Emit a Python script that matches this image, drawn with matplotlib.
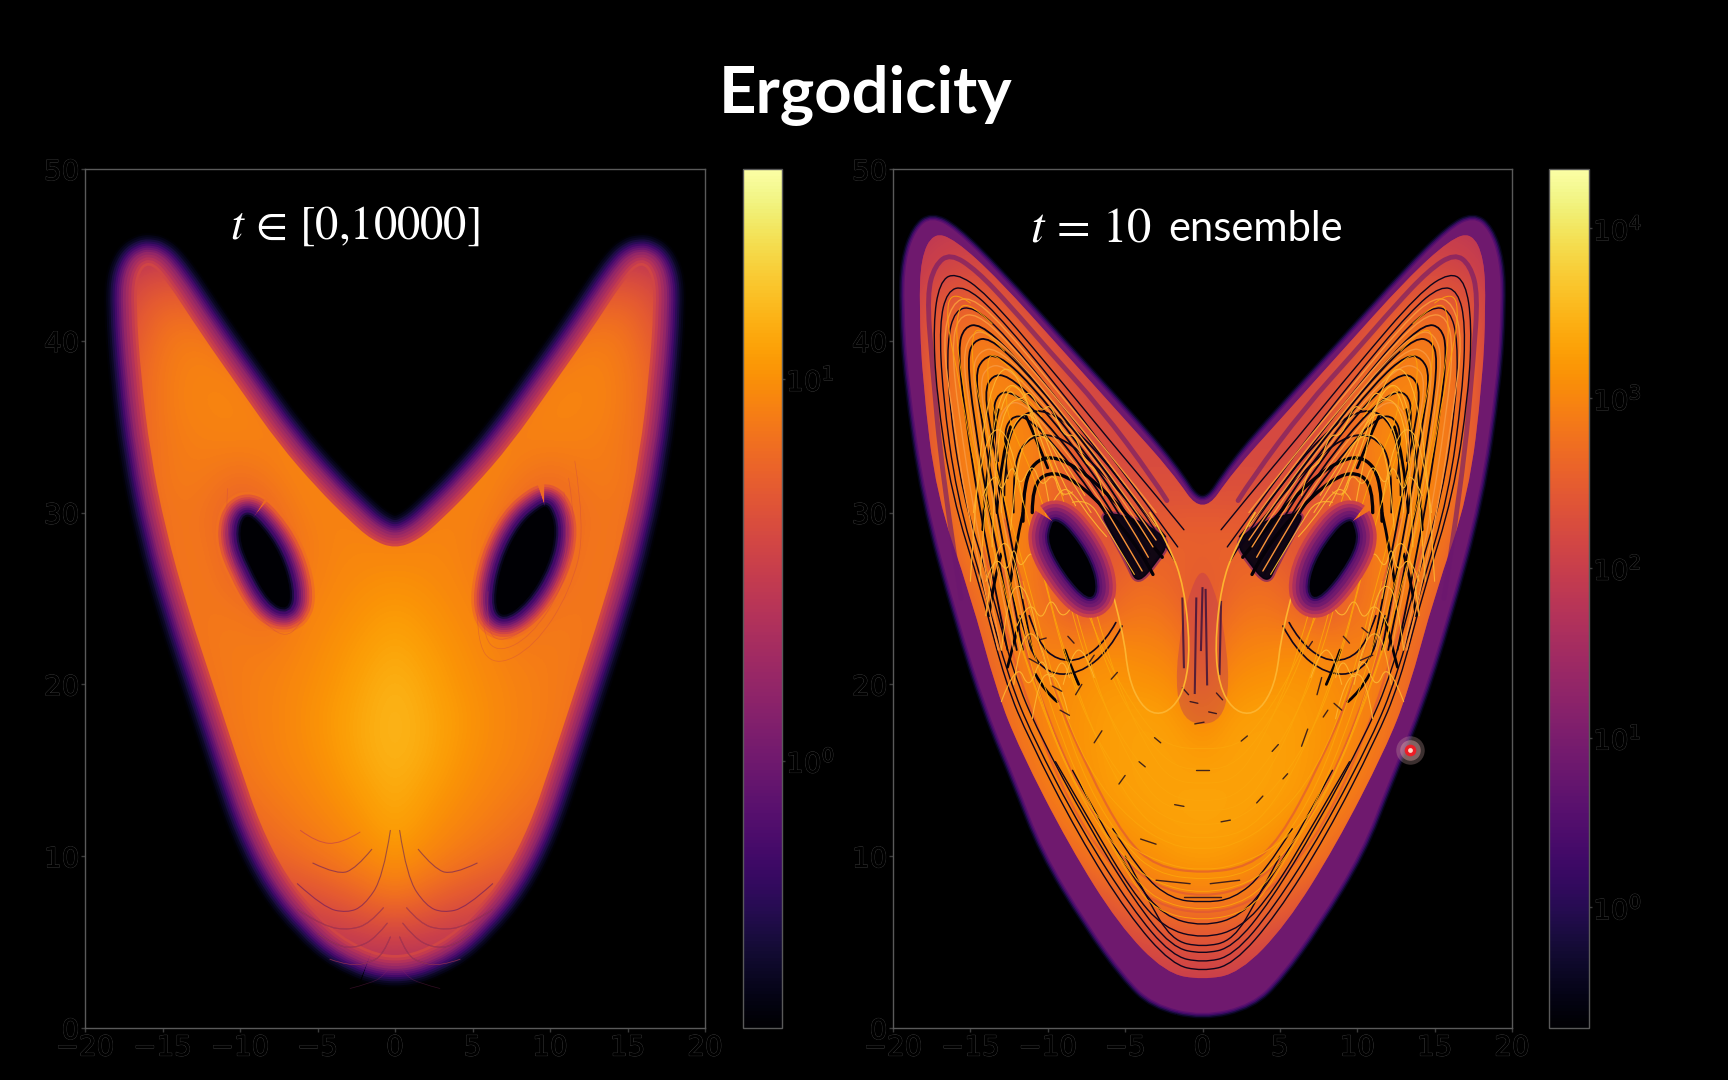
import matplotlib
matplotlib.use("Agg")
import matplotlib.pyplot as plt
import matplotlib.patheffects as pe
import numpy as np
from matplotlib.cm import ScalarMappable
from matplotlib.colors import LogNorm
from matplotlib.patches import PathPatch
from matplotlib.path import Path

# log10 density, x = 0, 2, ... 20 (the plot is close to mirror symmetric)
grid_x = [0, 2, 4, 6, 8, 10, 12, 14, 16, 18, 20]
grid_z = list(range(0, 52, 2))
left_log = [
    [-.2, -.2, -.3, -.4, -.5, -.5, -.6, -.7, -.7, -.7, -.7],
    [.10, .10, .05, 0.0, -.2, -.4, -.5, -.6, -.7, -.7, -.7],
    [.38, .38, .35, .30, .15, -.1, -.3, -.5, -.6, -.7, -.7],
    [.62, .58, .52, .48, .42, .30, .10, -.3, -.5, -.6, -.7],
    [.88, .80, .72, .66, .58, .50, .30, 0.0, -.3, -.5, -.7],
    [1.02, .95, .88, .82, .76, .66, .50, .30, 0.0, -.3, -.7],
    [1.10, 1.02, .95, .90, .84, .76, .66, .45, .15, -.2, -.6],
    [1.14, 1.07, 1.0, .94, .90, .84, .74, .60, .30, 0.0, -.5],
    [1.17, 1.12, 1.03, .97, .93, .88, .80, .66, .40, 0.0, -.5],
    [1.18, 1.12, 1.05, .98, .93, .90, .84, .72, .50, .10, -.4],
    [1.16, 1.10, 1.02, .97, .93, .90, .86, .78, .60, .25, -.3],
    [1.12, 1.06, 1.0, .95, .90, .90, .88, .82, .66, .35, -.2],
    [1.06, 1.02, .97, .93, .82, .88, .88, .85, .70, .40, -.2],
    [1.0, .98, .95, .90, .74, .78, .88, .86, .74, .45, -.1],
    [.94, .95, .94, .88, .72, .72, .86, .88, .78, .50, -.1],
    [.84, .92, .94, .92, .78, .72, .84, .88, .80, .55, 0.0],
    [.40, .75, .92, .95, .88, .82, .88, .90, .82, .60, 0.0],
    [.10, .50, .80, .94, .93, .92, .92, .90, .82, .60, 0.0],
    [-.2, .20, .50, .75, .90, .95, .94, .92, .82, .60, 0.0],
    [-.5, -.2, .10, .40, .70, .92, .94, .92, .82, .60, 0.0],
    [-.7, -.5, -.2, 0.0, .40, .72, .90, .90, .78, .55, 0.0],
    [-.7, -.7, -.5, -.2, 0.0, .40, .68, .80, .72, .50, -.1],
    [-.7, -.7, -.7, -.5, -.2, 0.0, .30, .55, .58, .40, -.3],
    [-.7, -.7, -.7, -.7, -.5, -.3, -.2, 0.0, .15, -.1, -.5],
    [-.7, -.7, -.7, -.7, -.7, -.7, -.6, -.5, -.4, -.5, -.7],
    [-.7, -.7, -.7, -.7, -.7, -.7, -.7, -.7, -.7, -.7, -.7],
]
right_log = [
    [1.5, 1.5, 1.5, 1.4, 1.3, 1.2, 1.2, 1.2, 1.2, 1.2, 1.2],
    [1.9, 1.9, 1.8, 1.8, 1.7, 1.6, 1.5, 1.4, 1.3, 1.2, 1.2],
    [2.15, 2.15, 2.1, 2.0, 1.9, 1.8, 1.7, 1.6, 1.5, 1.4, 1.2],
    [2.5, 2.45, 2.35, 2.2, 2.1, 2.0, 1.9, 1.7, 1.6, 1.4, 1.2],
    [2.95, 2.9, 2.75, 2.5, 2.25, 2.0, 1.9, 1.8, 1.6, 1.4, 1.2],
    [3.25, 3.2, 3.05, 2.9, 2.65, 2.3, 2.0, 1.9, 1.7, 1.5, 1.2],
    [3.32, 3.3, 3.25, 3.1, 2.9, 2.65, 2.3, 2.0, 1.8, 1.5, 1.2],
    [3.32, 3.3, 3.3, 3.25, 3.05, 2.85, 2.5, 2.1, 1.8, 1.5, 1.2],
    [3.2, 3.3, 3.3, 3.25, 3.15, 2.95, 2.7, 2.2, 1.8, 1.5, 1.2],
    [2.95, 3.25, 3.3, 3.25, 3.15, 3.0, 2.8, 2.3, 1.8, 1.5, 1.2],
    [2.6, 3.1, 3.15, 3.2, 3.1, 3.0, 2.85, 2.5, 1.9, 1.5, 1.2],
    [2.4, 2.95, 3.0, 3.05, 2.95, 2.95, 2.9, 2.6, 2.0, 1.6, 1.2],
    [2.35, 2.75, 2.85, 2.65, 2.4, 2.8, 2.95, 2.75, 2.2, 1.7, 1.2],
    [2.4, 2.6, 2.7, 2.5, 2.2, 2.6, 3.0, 2.85, 2.4, 1.8, 1.2],
    [2.55, 2.6, 2.5, 2.4, 2.3, 2.5, 3.0, 3.0, 2.6, 2.0, 1.3],
    [2.45, 2.4, 2.4, 2.5, 2.4, 2.6, 3.0, 3.05, 2.7, 2.1, 1.4],
    [2.2, 2.3, 2.25, 2.3, 2.4, 2.7, 3.0, 3.05, 2.8, 2.15, 1.5],
    [2.0, 2.2, 2.2, 2.2, 2.4, 2.8, 3.05, 3.05, 2.85, 2.2, 1.5],
    [2.0, 2.0, 2.2, 2.2, 2.2, 2.65, 3.0, 3.05, 2.8, 2.2, 1.5],
    [2.0, 2.0, 2.0, 2.1, 2.2, 2.4, 2.9, 3.0, 2.8, 2.3, 1.5],
    [2.0, 2.0, 2.0, 2.0, 2.1, 2.2, 2.6, 2.9, 2.75, 2.2, 1.5],
    [2.0, 2.0, 2.0, 2.0, 2.0, 2.1, 2.2, 2.5, 2.5, 2.2, 1.5],
    [1.9, 1.9, 2.0, 2.0, 2.0, 2.05, 2.1, 2.2, 2.15, 2.0, 1.5],
    [1.9, 1.9, 1.9, 1.9, 1.9, 1.9, 2.0, 2.0, 2.0, 1.9, 1.5],
    [1.5, 1.5, 1.5, 1.5, 1.5, 1.5, 1.5, 1.5, 1.5, 1.5, 1.5],
    [1.5, 1.5, 1.5, 1.5, 1.5, 1.5, 1.5, 1.5, 1.5, 1.5, 1.5],
]

# outlines, right half only
left_body_x = [0, 3, 5, 7, 8.7, 10, 11.6, 13.4, 14.8, 15.8, 16.4, 16.7, 16.6, 15.9, 14.8, 12.5, 10, 7.5, 5, 3, 1.5, 0]
left_body_z = [4.0, 5.0, 6.6, 8.8, 11.8, 15.2, 19.6, 24.5, 29, 33.5, 38, 42, 43.8, 44.6, 43.6, 40.4, 37.2, 34, 31.4, 29.6, 28.4, 27.9]
left_hole_r_x = [9.9, 10.4, 9.9, 8.5, 6.9, 6.4, 6.9, 8.1, 9.4]
left_hole_r_z = [30.4, 29, 26.9, 24.8, 23.8, 24.8, 27.2, 29.3, 30.3]
left_hole_l_x = [-9.7, -10.1, -9.4, -8.1, -6.9, -6.7, -7.4, -8.7]
left_hole_l_z = [30, 28.6, 26.9, 24.8, 24.3, 25.5, 27.6, 29.3]

# scallops near the bottom of the left panel
scallop_a = ([.3, .75, 2, 3.1, 4.6, 6.3], [11.5, 8.8, 7.1, 6.7, 7, 8.4])
scallop_b = ([1.5, 2.5, 3.7, 5.3], [10.4, 9.3, 8.9, 9.6])
scallop_c = ([-6.1, -5.05, -3.5, -2.26], [11.5, 10.8, 10.7, 11.4])
scallop_d = ([.3, .75, 1.6, 2.9, 4.2], [5.3, 4.3, 3.8, 3.6, 4])
scallop_e = ([.5, 1.2, 2.3, 3.7, 5], [6.1, 5.3, 4.7, 4.7, 5.5])
scallop_f = ([.3, .75, 1.6, 2.9], [3.6, 3, 2.6, 2.3])
scallop_g = ([.75, 1.6, 2.9, 4.6, 6.3], [7, 6.1, 5.7, 5.9, 6.9])
scallops = [scallop_a, scallop_b, scallop_d, scallop_e, scallop_g]
faint_scallops = [scallop_f]
ring_a = ([11.2, 11.8, 10.8, 8.8, 6.6, 5.6, 5.6], [32, 28.8, 25.6, 22.8, 21.8, 23, 25.4])
ring_b = ([10.9, 11.3, 10.4, 8.6, 6.6, 5.9, 6], [31.2, 28.6, 25.6, 23.2, 22.4, 23.4, 25.4])
ring_c = ([11.6, 12.3, 11.3, 9, 6.4, 5.2, 5.3], [33, 29, 25.4, 22.2, 21, 22.6, 25.6])
ring_d = ([-10.8, -11, -10, -8.4, -6.6, -5.9], [31.4, 28.6, 25.8, 23.4, 22.6, 24])
rings = [ring_a, ring_b, ring_c, ring_d]

right_outer_x = [0, 3.2, 5, 7.4, 10.3, 12, 13.9, 15.8, 17.9, 19, 19.3, 19.2, 18.5, 17.5, 16, 13.2, 9, 5, 2, 0]
right_outer_z = [.7, 1.4, 3, 6, 10.3, 14.3, 18.4, 23.8, 30.8, 37.7, 42, 44.7, 46.5, 47.2, 46.5, 44, 39.8, 35.9, 32.8, 30]
right_body_x = [0, 2.4, 5.4, 8.6, 11.8, 13.3, 15, 17.2, 18.1, 18.3, 18.2, 17.4, 16, 13.2, 9, 5, 2, 0]
right_body_z = [2.8, 3.2, 6, 10.6, 16.2, 19.6, 25.2, 31, 37.7, 42, 44.8, 46.3, 45.9, 43.6, 39.4, 35.4, 32.4, 29.8]
wedge_x = [2.2, 2.9, 4.2, 4.8, 6, 6.6, 4.8, 3]
wedge_z = [28.2, 27.2, 25.8, 27, 29, 30, 29.8, 29]
hole_x = [9.8, 10, 8.9, 7.4, 6.8, 7.2, 8.6, 9.5]
hole_z = [29.3, 28.2, 26.4, 24.9, 25.4, 27.1, 29, 29.6]
tear_x = [0, 1, 1.6, 1.7, 1.2, 0]
tear_z = [27, 25, 22, 19.5, 18, 17.6]
ribbon_x = [15.6, 16.8, 17.5, 17.8, 17.3, 16.3, 14.6, 12.4, 9.9, 6.6, 3.2, 2.3]
ribbon_z = [25, 32, 38.9, 42.7, 44.4, 45.1, 44.1, 42, 39.4, 36.1, 32, 30.7]

# dark strands, bottom centre -> side -> wing top -> arm
strand_1 = ([0, 2, 4.8, 8, 11.2, 12.7, 14.3, 16.2, 17.2, 17.4, 17, 16, 14, 10, 6, 3, 1.2],
            [3.3, 3.7, 6.6, 11.2, 16.8, 20, 25.5, 31, 37, 41, 43.4, 44, 42.8, 38.6, 34.2, 31, 29])
strand_2 = ([0, 2, 4.6, 7.8, 11, 12.5, 14.1, 15.9, 16.8, 17, 16.5, 15.4, 13.5, 9.6, 6, 3.2, 1.6],
            [3.8, 4.2, 7, 11.5, 17, 20.3, 25.5, 31, 37, 41, 42.9, 43.2, 41.8, 37.6, 33.4, 30, 28])
strand_3 = ([0, 2, 4.4, 7.4, 10.6, 12.2, 13.8, 15.5, 16.4, 16.5, 16, 14.8, 12.8, 9, 5.6, 3, 1.8],
            [4.3, 4.7, 7.4, 11.8, 17.2, 20.6, 26, 31, 36.5, 40, 41.8, 42, 40.4, 36.2, 32.2, 29, 27.2])
bowl_4 = ([0, 2.5, 4.6, 7, 9.5], [5.2, 5.8, 8, 11.6, 15.5])
bowl_5 = ([0, 2.5, 4.4, 6.6, 8.4], [5.9, 6.5, 8.6, 12, 15])
bowl_6 = ([0, 2, 4, 5.8], [7.3, 7.5, 9, 11.6])
bowl_7 = ([0, 2, 3.6, 5], [4.7, 5.1, 7.6, 10])
bottom_strands = [strand_1, strand_2, strand_3, bowl_4, bowl_5, bowl_6, bowl_7]

wing_1 = ([12.6, 14.2, 15.4, 15.8, 15.4, 14.4, 12.4, 9, 5.6, 3], [22, 29, 36, 39.6, 40.8, 41, 39.4, 35.6, 31.6, 28.4])
wing_2 = ([12, 13.6, 14.8, 15.2, 14.8, 13.8, 11.8, 8.4, 5, 3], [22, 29, 35.6, 39, 40, 40.2, 38.6, 35, 31, 28.2])
wing_3 = ([11.6, 13, 14.2, 14.7, 14.2, 13.2, 11.2, 8, 5, 3.4], [22, 28.6, 35, 38, 39, 39.2, 37.6, 34, 30.2, 27.6])
wing_4 = ([11, 12.4, 13.6, 14.1, 13.6, 12.6, 10.6, 7.6, 5, 3.6], [22, 28.4, 34.4, 37, 38, 38, 36.4, 33, 29.4, 27.2])
wing_5 = ([13.2, 13.6, 13.2, 12.2, 10.2, 7.4, 5, 3.8], [33, 35.8, 37, 37, 35.4, 32.2, 28.8, 26.8])
wing_6 = ([12.6, 12.9, 12.4, 11.4, 9.6, 7, 4.8, 4], [32, 34.4, 35.6, 35.6, 34, 31, 27.8, 26.4])
wing_7 = ([12.8, 12.8, 11.5, 9.5, 7, 4.6, 2.4], [31, 34, 36, 35.8, 33.8, 31, 28.6])
wing_8 = ([12.2, 12.3, 11, 9, 6.5, 4.2, 2.4], [30, 33, 34.6, 34.4, 32.4, 30, 28])
dark_wings = [wing_1, wing_2, wing_3, wing_4, wing_5, wing_6, wing_7, wing_8]

# light lines between the dark ones in the wing
glow_1 = ([13.2, 15, 16.2, 16.8, 16.2, 15, 13, 9.4, 5.8, 3], [22, 29, 36, 40, 42.2, 42.6, 41, 37.1, 33.2, 30])
glow_2 = ([13, 14.6, 15.8, 16.2, 15.8, 14.6, 12.6, 9, 5.4, 3], [22, 29, 36, 39.6, 41.4, 41.6, 40, 36.2, 32.2, 29.2])
glow_3 = ([12.2, 13.8, 15, 15.5, 15, 14, 12, 8.6, 5.2, 3], [22, 29, 35.8, 39, 40.4, 40.6, 39, 35.3, 31.3, 28.4])
glow_4 = ([11.8, 13.2, 14.4, 14.9, 14.4, 13.4, 11.4, 8.2, 5, 3.2], [22, 28.8, 35.2, 38.4, 39.4, 39.6, 38, 34.5, 30.6, 28])
glow_5 = ([11.2, 12.7, 13.9, 14.4, 13.9, 12.9, 10.9, 7.8, 5, 3.5], [22, 28.5, 34.7, 37.6, 38.5, 38.6, 37, 33.5, 29.8, 27.4])
glow_6 = ([13.4, 13.3, 12.6, 11.6, 9.8, 7.2, 5, 3.9], [33, 35.2, 36.4, 36.4, 34.7, 31.6, 28.3, 26.6])
bright_wings = [glow_1, glow_2, glow_3, glow_4, glow_5, glow_6]

crescent_1 = ([11.6, 11.6, 10.3, 8.3, 6, 4.2, 2.6], [29.5, 32, 33.4, 32.8, 31, 29.2, 27.4])
crescent_2 = ([11, 11, 10, 8.4, 6, 4, 3.2], [30, 31.5, 32.4, 32, 30, 27.8, 26.4])
crescents = [crescent_1, crescent_2]
lower_arc_1 = ([11.8, 11.2, 10, 8, 6, 5.2], [24, 22, 20.6, 20.6, 22, 23.4])
lower_arc_2 = ([11.2, 10.6, 9.4, 7.8, 6.2, 5.6], [24, 22.4, 21.4, 21.4, 22.6, 23.6])
lower_arcs = [lower_arc_1, lower_arc_2]

# reddish lines down the lower sides
side_1 = ([0, 3, 5.8, 8.6, 11.2, 13, 14.2], [6.6, 7.2, 9.2, 13, 18.6, 24, 28])
side_2 = ([0, 3, 5.4, 8, 10.6, 12.4, 13.6], [7.6, 8.2, 10, 13.8, 19.4, 25, 29])
side_3 = ([0, 3, 5, 7.4, 9.8, 11.6, 12.8], [9, 9.4, 11, 15, 20, 25.6, 29.6])
side_lines = [side_1, side_2, side_3]

# bright strands
fan_1 = ([0, 2, 5, 8, 10.5, 12.4, 14.4, 15.6, 16, 15.4, 13.6], [9.2, 9.4, 10.6, 13.5, 19, 26, 32, 38, 41, 42.6, 41])
fan_2 = ([0, 2, 4.6, 7.4, 9.6, 11.4, 13.2, 14.6, 15, 14.4, 12.8], [10.4, 10.6, 12, 15, 20, 26.5, 32, 37, 40, 41, 39.4])
fan_3 = ([0, 2, 4.2, 6.8, 8.8, 10.4, 12, 13.6, 14, 13.4, 11.6], [11.8, 12, 13.4, 16.6, 21, 26.8, 32, 36, 38.8, 39.4, 37.6])
fan_4 = ([0, 2, 3.8, 6, 7.8, 9.2, 10.8, 12.4, 12.8, 12, 10.4], [13.2, 13.4, 15, 18, 22, 27, 32, 35, 37, 37.6, 35.6])
fan_5 = ([0, 1.8, 3.4, 5.4, 7, 8, 9, 10], [15, 15.2, 16.6, 19.4, 23, 27, 31, 33.4])
fan_6 = ([0, 3, 5, 8, 11, 13, 14.6, 15.8, 16.6, 16.2, 15], [7.8, 8.4, 9.8, 13.4, 20, 26, 32, 38, 41.4, 43, 42.2])
fan_7 = ([0, 3, 5, 7.4, 9.4, 10.8, 11.6], [8.6, 9, 10.6, 14, 19, 23, 26])
fan_8 = ([0, 2.6, 4.6, 6.8, 8.6, 9.8, 10.4], [11, 11.3, 13, 16.6, 21, 24.6, 27])
fan_9 = ([0, 2.4, 4, 6, 7.4, 8.4], [12.6, 12.8, 14.4, 18, 21.6, 25])
fan_10 = ([0, 2, 3.4, 5, 6.2, 7], [14.2, 14.4, 16, 19, 22, 24.6])
fan_11 = ([0, 3, 4.8, 7.6, 10.4, 12.2], [6.8, 7.4, 9.2, 13, 18.6, 23.6])
fan_12 = ([0, 3, 4.6, 7, 9.8, 11.6], [6.2, 6.8, 8.6, 12.4, 18.4, 24])
fan_13 = ([0, 2.2, 3.6, 5.6, 7.4, 9], [16.2, 16.4, 17.6, 20.4, 24, 28])
bright_strands = [fan_1, fan_2, fan_3, fan_4, fan_5, fan_6, fan_7, fan_8, fan_9, fan_10, fan_11, fan_12, fan_13]

arch_1 = ([15, 14.6, 13.8, 12.7, 11.4, 10.4, 9.8], [26, 32, 37, 38.8, 37, 33, 30])
arch_2 = ([14.4, 14, 13.4, 12.4, 11.2, 10, 9], [26, 31, 36, 37.8, 36.4, 33, 31])
arch_3 = ([13.6, 13.4, 12.8, 11.6, 10.4, 9.2, 8.2], [28, 33, 36.2, 36.8, 35, 32, 30.4])
arch_4 = ([13, 12.8, 12, 11, 9.8, 8.6, 7.2], [30, 33.6, 35.6, 35.8, 34, 32, 30])
arch_5 = ([12.4, 12, 11.2, 10, 8.8, 7.6], [29, 33, 34.6, 34.4, 32.8, 31])
arch_6 = ([14.8, 14.2, 13.2, 12.2, 11.6], [30, 33.8, 35.2, 33.6, 30.6])
arch_7 = ([14, 13.6, 12.8, 12, 11.6], [24, 27, 28.6, 27, 25])
arch_8 = ([13, 12.6, 11.8, 11, 10.6], [22, 25, 26, 24.6, 22.6])
arch_9 = ([12.2, 11.8, 11, 10.2, 9.8], [20, 22.4, 23.2, 21.8, 20])
arch_10 = ([11, 10.6, 9.8, 9, 8.6], [18, 20.2, 20.8, 19.6, 18])
arch_11 = ([10, 9.2, 8.2, 7.2, 6.2], [30, 31.6, 31, 29.6, 28.6])
arch_12 = ([8.4, 7.4, 6.4, 5.2, 4.4], [30.6, 30.8, 29.4, 27.6, 26.4])
arch_13 = ([9, 8.4, 7.6, 7], [20, 22, 22, 20.4])
arch_14 = ([13, 12.6, 11.8, 11.2, 10.4, 9.8, 9, 8.2, 7.6, 6.8, 6.4], [36, 37.4, 36.4, 37.2, 35.8, 36.4, 34.4, 34.6, 32.8, 32.6, 31])
arch_15 = ([14.2, 13.4, 13, 12.3, 11.8, 11, 10.4, 9.6, 9.2, 8.4], [31, 32.6, 31, 33, 31.4, 33, 31.4, 32.4, 30.8, 31.2])
arch_16 = ([14, 13.4, 12.6, 12.2, 11.8, 11, 10.6], [26, 27.6, 26.4, 28.2, 26.6, 28, 27])
arch_17 = ([13, 12, 11.2, 10.4, 9.8, 9, 8.6], [19, 21.4, 19.6, 21.8, 20, 21.8, 20.4])
arch_18 = ([12, 11.2, 10.4, 9.8, 9, 8.4], [23.4, 25, 23.6, 25.2, 23.6, 24.6])
arches = [arch_1, arch_2, arch_3, arch_4, arch_5, arch_6, arch_7, arch_8, arch_9, arch_10, arch_11, arch_12,
          arch_13, arch_14, arch_15, arch_16, arch_17, arch_18]

# black patches between the arches
patch_1 = ([14.2, 13.9, 13.2], [29, 33.4, 36])
patch_2 = ([13.3, 13, 12.4], [30, 33.4, 35])
patch_3 = ([11.4, 10.8, 10], [35.6, 34.4, 32.6])
patch_4 = ([13.8, 13.5, 13], [24, 26, 27.6])
patch_5 = ([12.4, 12.1, 11.6], [26, 28, 30])
patch_7 = ([12.6, 12.2, 11.8], [21, 22.4, 23.8])
patch_8 = ([10.8, 10.2, 9.4], [20.6, 19.6, 19])
patch_9 = ([8.9, 8.5, 8], [22, 21, 20])
patches_dark = [patch_1, patch_2, patch_3, patch_4, patch_5, patch_7, patch_8, patch_9]

loop_x = [6, 5.1, 4.8, 4, 3, 1.9, 1.1, .8, 1.2, 2.1, 3.4]
loop_z = [26, 23, 20.4, 18.8, 18.2, 18.6, 19.9, 22.2, 25.7, 28, 30]

dash_x = [(-1.2, 1.2), (-3, -.8), (.5, 2.4), (-4, -3), (6.4, 6.8), (7.4, 7.7), (-7, -6.5), (-8.2, -7.8), (-11.2, -10.6),
          (10.2, 11), (-9.2, -8.6), (8.5, 9), (-.4, .4), (-1.8, -1.2), (1.2, 1.8), (-5.4, -5), (3.5, 3.9), (-.8, -.3), (.4, .9),
          (-.5, .1), (-1.3, -.9), (.9, 1.3), (-3.1, -2.7), (2.5, 2.9), (-8.7, -8.3), (-10.5, -10.1), (9.1, 9.5), (10.3, 10.7),
          (6.8, 7.1), (-5.9, -5.5), (-4.1, -3.7), (4.5, 4.9), (-9.7, -9.1), (-7.3, -7), (7.8, 8.1), (5.2, 5.5)]
dash_z = [(7.6, 7.6), (8.6, 8.4), (8.4, 8.6), (11, 10.7), (16.4, 17.4), (19.4, 20.4), (16.6, 17.3), (19.4, 20), (21.5, 21.2),
          (21.4, 21.7), (18.5, 18.2), (18.9, 18.5), (15, 15), (13, 12.9), (12, 12.1), (14.2, 14.7), (13.1, 13.5), (19, 18.9), (18.4, 18.3),
          (17.7, 17.8), (19.8, 19.4), (19.5, 19.1), (16.9, 16.6), (16.7, 17), (22.8, 22.4), (22.6, 22.7), (22.8, 22.4), (23.3, 23),
          (22.1, 22.5), (20.3, 20.7), (15.5, 15.2), (16.1, 16.5), (19.9, 19.6), (21.3, 21.7), (18.1, 18.5), (14.5, 14.8)]
streak_x = [(-1.2, -1.3), (-.5, -.4), (.3, .2), (1.1, 1.2), (-.1, 0)]
streak_z = [(21, 25), (19.5, 25), (20, 25.5), (20.6, 24.8), (22, 25.6)]

dot_x = [13.4]
dot_z = [16.2]

title_text = "Ergodicity"
x_ticks = [-20, -15, -10, -5, 0, 5, 10, 15, 20]
z_ticks = [0, 10, 20, 30, 40, 50]
left_bar_ticks = [1, 10]
right_bar_ticks = [1, 10, 100, 1000, 10000]
left_range = (10 ** -0.7, 10 ** 1.55)
right_range = (10 ** -0.71, 10 ** 4.35)

W, H = 1728, 1080
DIM = "#3c3c3c"
hollow = [pe.withStroke(linewidth=0.8, foreground=DIM), pe.Normal()]
cmap = plt.get_cmap("inferno")


def add_axes(x0, x1, y0, y1):
    return fig.add_axes([x0 / W, 1 - y1 / H, (x1 - x0) / W, (y1 - y0) / H], facecolor="black")


def mirror_closed(x, z):
    return list(x) + [-v for v in reversed(x[1:-1])], list(z) + list(reversed(z[1:-1]))


def mirror_open(x, z):
    return [-v for v in reversed(x[1:])] + list(x), list(reversed(z[1:])) + list(z)


def closed_path(x, z):
    pts = np.column_stack([x, z])
    mids = (pts + np.roll(pts, -1, axis=0)) / 2
    verts, codes = [mids[-1]], [Path.MOVETO]
    for p, m in zip(pts, mids):
        verts += [p, m]
        codes += [Path.CURVE3, Path.CURVE3]
    return Path(verts, codes)


def open_path(x, z):
    pts = np.column_stack([x, z])
    verts, codes = [pts[0]], [Path.MOVETO]
    for i in range(1, len(pts) - 1):
        end = pts[i + 1] if i == len(pts) - 2 else (pts[i] + pts[i + 1]) / 2
        verts += [pts[i], end]
        codes += [Path.CURVE3, Path.CURVE3]
    return Path(verts, codes)


def fill(ax, path, frac, lw=0, alpha=None, zorder=2):
    col = cmap(frac)
    patch = PathPatch(path, fc=col, ec=col, lw=lw, alpha=alpha, zorder=zorder, joinstyle="round")
    ax.add_patch(patch)
    return patch


def stroke(ax, path, color, lw, alpha=None, zorder=5):
    ax.add_patch(PathPatch(path, fc="none", ec=color, lw=lw, alpha=alpha, zorder=zorder, capstyle="round"))


def both_sides(ax, curves, color, lw, alpha=None, zorder=5):
    for sx, sz in curves:
        for sign in (1, -1):
            stroke(ax, open_path([sign * v for v in sx], sz), color, lw, alpha, zorder)


def bowls(ax, curves, color, lw, alpha=None, zorder=5):
    for sx, sz in curves:
        fx, fz = mirror_open(sx, sz)
        stroke(ax, open_path(fx, fz), color, lw, alpha, zorder)


def density_image(ax, rows, norm, clip):
    half = np.array(rows, dtype=float)
    full = np.hstack([half[:, :0:-1], half])
    im = ax.imshow(10 ** full, origin="lower", aspect="auto", extent=[-21, 21, -1, 51], cmap=cmap, norm=norm,
                   interpolation="bicubic", zorder=3)
    im.set_clip_path(clip)
    return im


def style_axes(ax):
    ax.set_xlim(-20, 20)
    ax.set_ylim(0, 50)
    ax.set_xticks(x_ticks)
    ax.set_yticks(z_ticks)
    ax.tick_params(colors=DIM, length=3, width=1, pad=1, labelsize=20)
    for side in ax.spines.values():
        side.set_color("#5a5a5a")
        side.set_linewidth(1)
    for lab in ax.get_xticklabels() + ax.get_yticklabels():
        lab.set_color("black")
        lab.set_path_effects(hollow)


def add_bar(x0, x1, norm, ticks):
    cax = add_axes(x0, x1, 169, 1028)
    cb = fig.colorbar(ScalarMappable(norm=norm, cmap=cmap), cax=cax)
    cb.set_ticks(ticks)
    cb.minorticks_off()
    cb.outline.set_edgecolor("#5a5a5a")
    cb.outline.set_linewidth(1)
    cax.tick_params(colors=DIM, length=2, width=1, pad=1, labelsize=20, which="major")
    for lab in cax.get_yticklabels():
        lab.set_color("black")
        lab.set_path_effects(hollow)


fig = plt.figure(figsize=(W / 100, H / 100), dpi=100, facecolor="black")
fig.text(866 / W, 1 - 96 / H, title_text, color="white", family="Lato", weight="bold", fontsize=47, ha="center", va="center")

# left panel: long time average
ax = add_axes(85, 705, 169, 1028)
left_norm = LogNorm(*left_range)
body = closed_path(*mirror_closed(left_body_x, left_body_z))
fade = [.01, .04, .07, .11, .15, .2, .25, .3, .35, .4, .44, .48, .52, .56]
widths = [47, 44, 41, 38, 35, 32, 29, 26, 23, 20, 16, 12, 8, 4]
for f, w in zip(fade, widths):
    fill(ax, body, f, lw=w)
density_image(ax, left_log, left_norm, fill(ax, body, .56))
for hx, hz in [(left_hole_r_x, left_hole_r_z), (left_hole_l_x, left_hole_l_z)]:
    hole = closed_path(hx, hz)
    hf = [.68, .62, .56, .5, .44, .38, .32, .26, .2, .12, .05]
    hw = [36, 32, 28, 25, 22, 19, 16, 13, 10, 6, 3]
    for f, w in zip(hf, hw):
        fill(ax, hole, f, lw=w, zorder=4)
    fill(ax, hole, 0, zorder=4)
for rx, rz in rings:
    stroke(ax, open_path(rx, rz), cmap(.55), .5, alpha=.4)
both_sides(ax, scallops, cmap(.22), .8, alpha=.5)
both_sides(ax, scallops[2:], cmap(.62), .5, alpha=.45)
both_sides(ax, faint_scallops, cmap(.4), .5, alpha=.35)
stroke(ax, open_path(*scallop_c), cmap(.5), .7, alpha=.6)
style_axes(ax)
ax.text(0.435, 0.933, r"$t\,\in\,[0{,}10000]$", transform=ax.transAxes, color="white", fontsize=33.5, ha="center", va="center",
        math_fontfamily="stix")
add_bar(743, 782, left_norm, left_bar_ticks)

# right panel: ensemble at t = 10
ax = add_axes(893, 1512, 169, 1028)
right_norm = LogNorm(*right_range)
outer = closed_path(*mirror_closed(right_outer_x, right_outer_z))
for f, w in zip([.05, .12, .2, .26], [8, 6, 4, 2]):
    fill(ax, outer, f, lw=w)
fill(ax, outer, .31)
body = closed_path(*mirror_closed(right_body_x, right_body_z))
density_image(ax, right_log, right_norm, fill(ax, body, .46))
for sign in (1, -1):
    wedge = closed_path([sign * v for v in wedge_x], wedge_z)
    fill(ax, wedge, .3, lw=4, alpha=.6, zorder=4)
    fill(ax, wedge, .02, lw=1, alpha=.9, zorder=4)
both_sides(ax, [(ribbon_x, ribbon_z)], cmap(.3), 3.5, alpha=.6, zorder=4)
tear = closed_path(*mirror_closed(tear_x, tear_z))
fill(ax, tear, .5, alpha=.4, zorder=4)
bowls(ax, side_lines, cmap(.6), 1.6, alpha=.6, zorder=4)
bowls(ax, bottom_strands, "#10051c", 1.0)
both_sides(ax, dark_wings, "#0c0414", 1.3)
both_sides(ax, crescents, "#050108", 2.4)
both_sides(ax, lower_arcs, "#10051c", 1.2)
both_sides(ax, patches_dark, "#050108", 2.0)
both_sides(ax, bright_wings, "#f8943a", 1.0, zorder=6)
bowls(ax, bright_strands, "#fca50a", .7, alpha=.9, zorder=6)
both_sides(ax, arches, "#fdb42f", .8, alpha=.95, zorder=6)
for dx, dz in zip(dash_x, dash_z):
    ax.plot(dx, dz, color="#14061f", lw=1.0, alpha=.8, zorder=6.5, solid_capstyle="round")
for dx, dz in zip(streak_x, streak_z):
    ax.plot(dx, dz, color="#2a0a3a", lw=1.5, alpha=.75, zorder=6.5)
both_sides(ax, [(loop_x, loop_z)], "#fdb42f", 1.2, zorder=7)
# the eye and its ring sit on top of the strands
for sign in (1, -1):
    hole = closed_path([sign * v for v in hole_x], hole_z)
    for f, w in zip([.54, .46, .38, .32, .28, .2, .1], [30, 25, 20, 15, 10, 6, 3]):
        fill(ax, hole, f, lw=w, zorder=7.5)
    fill(ax, hole, 0, zorder=7.5)
# red marker with its haze
ax.scatter(dot_x, dot_z, s=420, color="#c8a0a0", alpha=.3, linewidths=0, zorder=8)
ax.scatter(dot_x, dot_z, s=220, color="#d8a0a0", alpha=.45, linewidths=0, zorder=8)
ax.scatter(dot_x, dot_z, s=70, color="#ee1c25", linewidths=0, zorder=9)
ax.scatter(dot_x, dot_z, s=12, color="#ffd8c8", linewidths=0, zorder=10)
style_axes(ax)
ax.text(0.32, 0.932, r"$t\,=\,10$", transform=ax.transAxes, color="white", fontsize=35, ha="center", va="center",
        math_fontfamily="stix", zorder=11)
ax.text(0.585, 0.93, "ensemble", transform=ax.transAxes, color="white", fontsize=30, family="Lato", ha="center", va="center", zorder=11)
add_bar(1549, 1589, right_norm, right_bar_ticks)

fig.savefig("out.png", dpi=100, facecolor="black")
